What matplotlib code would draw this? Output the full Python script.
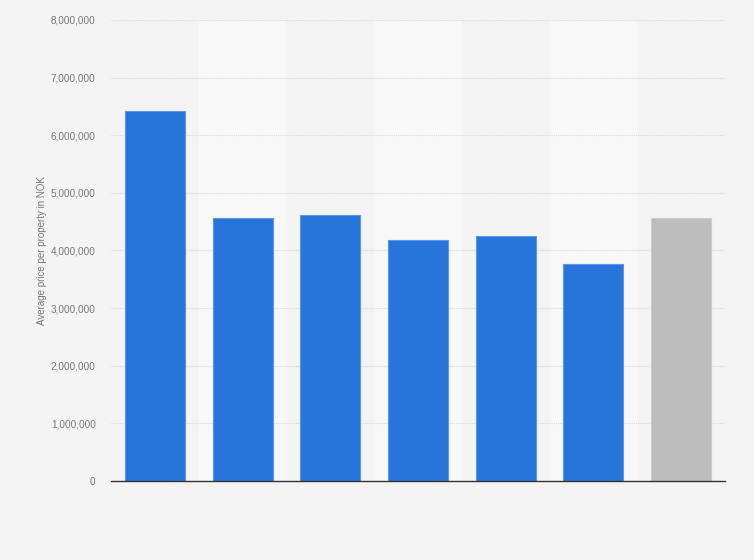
import numpy as np
import matplotlib.pyplot as plt
from matplotlib.ticker import FuncFormatter

plt.rcParams['font.family'] = ['Liberation Sans', 'DejaVu Sans']

categories = ['1', '2', '3', '4', '5', '6', '7']
prices = [6420000, 4570000, 4620000, 4190000, 4260000, 3760000, 4560000]
bar_colors = ['#2775db'] * 6 + ['#bdbdbd']
edge_colors = ['#5c97e6'] * 6 + ['#cccccc']

fig = plt.figure(figsize=(7.54, 5.6), dpi=100, facecolor='#f4f4f4')
ax = fig.add_axes([0.1472, 0.1411, 0.8143, 0.8232])
ax.set_facecolor('#f4f4f4')

x = np.arange(len(categories))
# alternating column bands
for i in x:
    if i % 2 == 1:
        ax.axvspan(i - 0.5, i + 0.5, color='#f8f8f8', zorder=0, lw=0)

ax.bar(x, prices, width=0.685, color=bar_colors, edgecolor=edge_colors,
       linewidth=0.8, zorder=3)

ax.set_xlim(-0.5, len(categories) - 0.5)
ax.set_ylim(0, 8000000)
ax.set_yticks(np.arange(0, 8000001, 1000000))
ax.yaxis.set_major_formatter(FuncFormatter(lambda v, p: f'{int(v):,}'))
ax.grid(axis='y', color='#d8d8d8', linestyle=(0, (1, 1)), linewidth=0.8, zorder=1)
ax.set_xticks([])
ax.tick_params(axis='y', length=0, labelsize=7.2, labelcolor='#777777', pad=11)

for s in ['top', 'right', 'left']:
    ax.spines[s].set_visible(False)
ax.spines['bottom'].set_color('#333333')
ax.spines['bottom'].set_linewidth(1)
ax.spines['bottom'].set_zorder(4)

ax.set_ylabel('Average price per property in NOK', fontsize=7.0, color='#777777', labelpad=3)

plt.savefig('out.png', dpi=100, facecolor=fig.get_facecolor())
